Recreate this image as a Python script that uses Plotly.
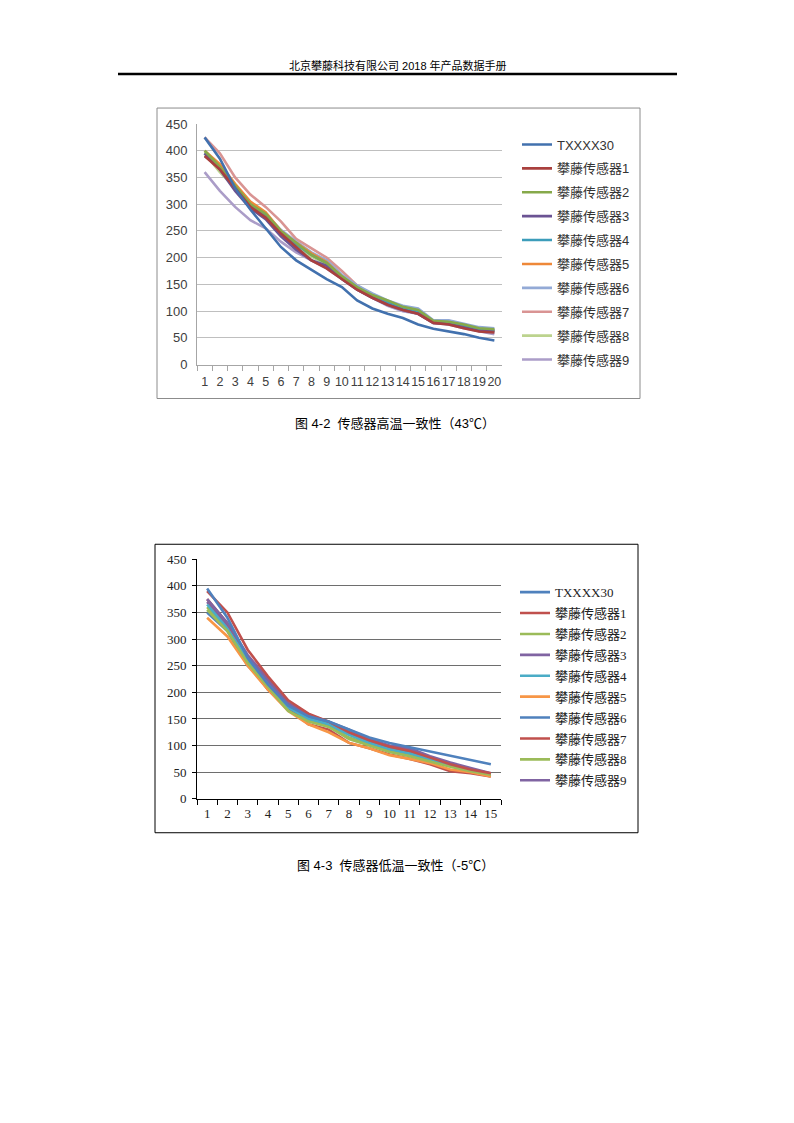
import plotly.graph_objects as go

# the page is 794x1123; the photographed figure comes out shifted and slightly
# squeezed vertically, so page pixels are mapped back through that
OFFX = 8
FW, FH = 794 - 2 * OFFX, 1090
Y_TOP, Y_SCALE = 13.8, 0.988


def px_x(x):
    return (x - OFFX) / FW


def px_y(y):
    return 1 - ((y - Y_TOP) / Y_SCALE) / FH


# ---- data: figure 4-2, high temperature (43C) ----
x_hi = [str(i) for i in range(1, 21)]
hi_txxxx30 = [425, 385, 330, 290, 255, 220, 195, 178, 160, 145, 120, 105, 95, 87, 75, 67, 62, 57, 50, 45]
hi_s1 = [390, 365, 330, 295, 275, 245, 220, 195, 180, 160, 140, 125, 112, 102, 95, 78, 75, 68, 62, 60]
hi_s2 = [400, 370, 335, 300, 282, 250, 228, 205, 190, 165, 145, 130, 120, 108, 102, 82, 80, 75, 68, 66]
hi_s3 = [395, 365, 325, 292, 272, 240, 215, 195, 185, 160, 140, 125, 112, 102, 95, 78, 76, 70, 63, 62]
hi_s4 = [395, 368, 332, 298, 280, 248, 225, 205, 190, 163, 143, 128, 116, 106, 100, 80, 79, 72, 66, 64]
hi_s5 = [400, 375, 338, 305, 285, 250, 228, 208, 192, 165, 143, 128, 115, 105, 98, 80, 78, 72, 65, 63]
hi_s6 = [390, 370, 335, 300, 282, 252, 230, 210, 195, 168, 148, 133, 120, 110, 105, 83, 83, 77, 70, 68]
hi_s7 = [425, 395, 350, 318, 295, 268, 235, 218, 200, 175, 148, 130, 118, 107, 100, 82, 82, 75, 68, 65]
hi_s8 = [395, 360, 330, 298, 278, 245, 222, 202, 188, 162, 142, 127, 115, 104, 98, 80, 78, 72, 66, 63]
hi_s9 = [360, 325, 295, 270, 255, 230, 210, 195, 180, 160, 140, 125, 110, 100, 95, 78, 75, 68, 62, 57]

# ---- data: figure 4-3, low temperature (-5C) ----
x_lo = [str(i) for i in range(1, 16)]
lo_txxxx30 = [395, 340, 265, 215, 175, 155, 145, 130, 115, 105, 97, 88, 80, 72, 65]
lo_s1 = [390, 350, 280, 230, 185, 160, 145, 125, 110, 98, 90, 78, 65, 55, 48]
lo_s2 = [355, 315, 255, 210, 165, 145, 135, 112, 100, 88, 80, 70, 60, 52, 45]
lo_s3 = [375, 330, 270, 225, 180, 158, 145, 130, 112, 100, 95, 80, 68, 58, 48]
lo_s4 = [365, 320, 262, 215, 172, 150, 140, 120, 105, 93, 85, 74, 63, 55, 46]
lo_s5 = [340, 305, 250, 205, 165, 140, 125, 105, 95, 82, 75, 67, 55, 50, 42]
lo_s6 = [350, 315, 250, 215, 170, 152, 140, 122, 107, 95, 88, 75, 64, 56, 47]
lo_s7 = [375, 330, 255, 205, 170, 140, 130, 105, 95, 83, 75, 65, 52, 48, 42]
lo_s8 = [360, 318, 258, 212, 168, 148, 137, 115, 102, 90, 82, 72, 62, 54, 46]
lo_s9 = [370, 325, 265, 220, 178, 155, 140, 125, 110, 97, 92, 78, 66, 56, 47]

names = ["TXXXX30"] + [f"攀藤传感器{i}" for i in range(1, 10)]
hi_series = [hi_txxxx30, hi_s1, hi_s2, hi_s3, hi_s4, hi_s5, hi_s6, hi_s7, hi_s8, hi_s9]
lo_series = [lo_txxxx30, lo_s1, lo_s2, lo_s3, lo_s4, lo_s5, lo_s6, lo_s7, lo_s8, lo_s9]

hi_colors = ["#4271AE", "#A9403E", "#86A94A", "#6B5393", "#3C9DBA",
             "#EE8838", "#93AAD6", "#D99493", "#BCD38E", "#AB9DC8"]
lo_colors = ["#4F81BD", "#C0504D", "#9BBB59", "#8064A2", "#4BACC6",
             "#F79646", "#4F81BD", "#C0504D", "#9BBB59", "#8064A2"]

sans = "Liberation Sans, Noto Sans CJK SC"
serif = "Liberation Serif, Noto Sans CJK SC"

fig = go.Figure()

# first series drawn last so it sits on top, like excel;
# legendrank keeps the legend listing them 0..9
for i in reversed(range(10)):
    fig.add_trace(go.Scatter(
        x=x_hi, y=hi_series[i], name=names[i], mode="lines",
        line=dict(color=hi_colors[i], width=2.6),
        xaxis="x", yaxis="y", legend="legend", legendgroup=f"h{i}",
        legendrank=i,
    ))

for i in reversed(range(10)):
    fig.add_trace(go.Scatter(
        x=x_lo, y=lo_series[i], name=names[i], mode="lines",
        line=dict(color=lo_colors[i], width=2.6),
        xaxis="x2", yaxis="y2", legend="legend2", legendgroup=f"l{i}",
        legendrank=i,
    ))

fig.update_layout(
    width=FW, height=FH,
    margin=dict(l=0, r=0, t=0, b=0),
    paper_bgcolor="white", plot_bgcolor="white",
    font=dict(family=sans, size=12, color="#333"),
    xaxis=dict(
        domain=[px_x(197), px_x(502)], anchor="y",
        type="category", range=[-0.5, 19.5],
        tickmode="array", tickvals=x_hi, ticktext=x_hi, tickangle=0,
        showgrid=False, showline=True, linecolor="#A6A6A6", linewidth=1,
        ticks="outside", tickson="boundaries", ticklen=5, tickcolor="#A6A6A6",
        ticklabelstandoff=5,
        tickfont=dict(family=sans, size=12.5, color="#404040"),
        zeroline=False,
    ),
    yaxis=dict(
        domain=[px_y(364), px_y(123)], anchor="x",
        range=[0, 450], dtick=50,
        showgrid=True, gridcolor="#BFBFBF", gridwidth=1,
        showline=True, linecolor="#A6A6A6", linewidth=1,
        ticks="", ticklabelstandoff=6,
        tickfont=dict(family=sans, size=13, color="#404040"),
        zeroline=False,
    ),
    xaxis2=dict(
        domain=[px_x(197), px_x(501)], anchor="y2",
        type="category", range=[-0.5, 14.5],
        tickmode="array", tickvals=x_lo, ticktext=x_lo, tickangle=0,
        showgrid=False, showline=True, linecolor="#000", linewidth=1,
        ticks="outside", tickson="boundaries", ticklen=5, tickcolor="#000",
        ticklabelstandoff=3,
        tickfont=dict(family=serif, size=13, color="#222"),
        zeroline=False,
    ),
    yaxis2=dict(
        domain=[px_y(799), px_y(559)], anchor="x2",
        range=[0, 450], dtick=50,
        showgrid=True, gridcolor="#6E6E6E", gridwidth=1,
        showline=True, linecolor="#000", linewidth=1,
        ticks="outside", ticklen=4, tickcolor="#000", ticklabelstandoff=3,
        tickfont=dict(family=serif, size=13, color="#222"),
        zeroline=False,
    ),
    legend=dict(
        x=px_x(517), y=px_y(128.5), xanchor="left", yanchor="top",
        bgcolor="rgba(0,0,0,0)", tracegroupgap=4, itemwidth=30,
        font=dict(family=sans, size=13, color="#333"),
        traceorder="grouped",
    ),
    legend2=dict(
        x=px_x(515), y=px_y(577), xanchor="left", yanchor="top",
        bgcolor="rgba(0,0,0,0)", tracegroupgap=1, itemwidth=30,
        font=dict(family=serif, size=13, color="#222"),
        traceorder="grouped",
    ),
    shapes=[
        # header rule
        dict(type="line", xref="paper", yref="paper",
             x0=px_x(118), x1=px_x(677), y0=px_y(73), y1=px_y(73),
             line=dict(color="black", width=2.5)),
        # chart frames
        dict(type="rect", xref="paper", yref="paper",
             x0=px_x(157), x1=px_x(640), y0=px_y(398), y1=px_y(107),
             line=dict(color="#8C8C8C", width=1)),
        dict(type="rect", xref="paper", yref="paper",
             x0=px_x(155), x1=px_x(638), y0=px_y(833), y1=px_y(544),
             line=dict(color="black", width=1)),
    ],
    annotations=[
        dict(text="北京攀藤科技有限公司 2018 年产品数据手册", xref="paper", yref="paper",
             x=px_x(398), y=px_y(64), xanchor="center", yanchor="middle",
             showarrow=False, font=dict(family=sans, size=11, color="black")),
        dict(text="图 4-2  传感器高温一致性（43℃）", xref="paper", yref="paper",
             x=px_x(395), y=px_y(423), xanchor="center", yanchor="middle",
             showarrow=False, font=dict(family=sans, size=13, color="black")),
        dict(text="图 4-3  传感器低温一致性（-5℃）", xref="paper", yref="paper",
             x=px_x(395), y=px_y(866), xanchor="center", yanchor="middle",
             showarrow=False, font=dict(family=sans, size=13, color="black")),
    ],
)

fig.write_html("out.html")
